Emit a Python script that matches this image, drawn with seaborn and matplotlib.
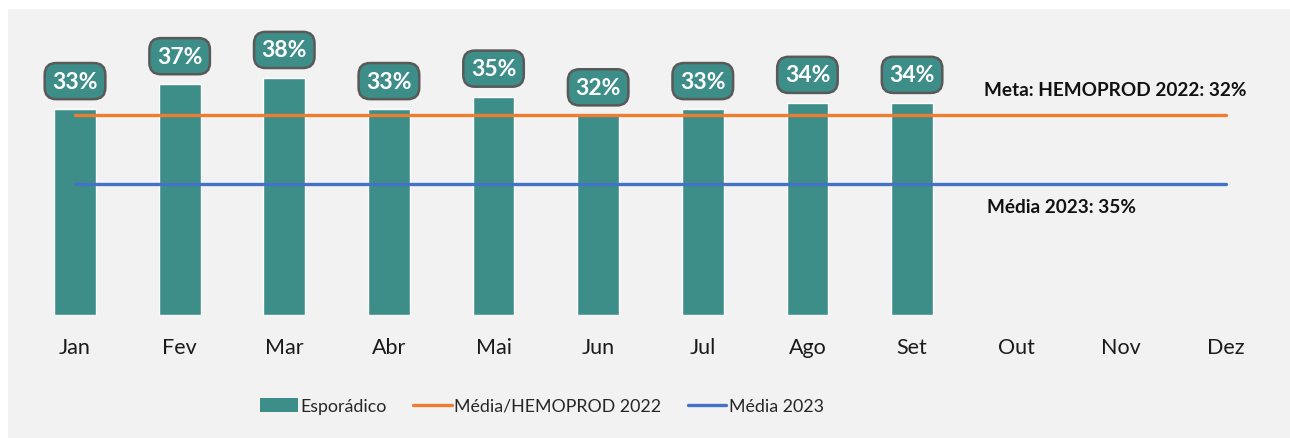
import numpy as np
import pandas as pd
import seaborn as sns
import matplotlib.pyplot as plt
from matplotlib.patches import Rectangle
from matplotlib.lines import Line2D
from matplotlib.patches import Patch

# dados do gráfico
meses = ['Jan', 'Fev', 'Mar', 'Abr', 'Mai', 'Jun', 'Jul', 'Ago', 'Set', 'Out', 'Nov', 'Dez']
esporadico = [0.33, 0.37, 0.38, 0.33, 0.35, 0.32, 0.33, 0.34, 0.34, np.nan, np.nan, np.nan]
meta_2022 = [0.32] * 12
media_2023 = [0.35] * 12

cor_barra = '#3D8E89'
cor_laranja = '#ED7D31'
cor_azul = '#4472C4'

sns.set_style('white')
plt.rcParams['font.family'] = ['Lato', 'DejaVu Sans']

df = pd.DataFrame({'mes': meses, 'esporadico': esporadico,
                   'meta': meta_2022, 'media': media_2023})
df['pos'] = np.arange(len(meses))

fig = plt.figure(figsize=(12.9, 4.39), dpi=100)
fig.patch.set_facecolor('white')
fig.patches.append(Rectangle((8 / 1290, -0.1), 2, 1.1 - 10 / 439, transform=fig.transFigure,
                             facecolor='#F2F2F2', edgecolor='none', zorder=-1))

ax = fig.add_axes([0.0176, 0.2809, 0.9733, 0.6740])
ax.set_facecolor('none')
sns.barplot(data=df, x='mes', y='esporadico', order=meses, color=cor_barra,
            width=0.4, saturation=1, ax=ax, label='Esporádico')
sns.lineplot(data=df, x='pos', y='meta', color=cor_laranja, linewidth=2.4,
             ax=ax, label='Média/HEMOPROD 2022', legend=False)
ax.lines[-1].set_solid_capstyle('round')

# linha da média 2023 no eixo secundário
ax2 = ax.twinx()
ax2.set_facecolor('none')
sns.lineplot(data=df, x='pos', y='media', color=cor_azul, linewidth=2.4,
             ax=ax2, label='Média 2023', legend=False)
ax2.lines[-1].set_solid_capstyle('round')

ax.set_xlim(-0.5, 11.5)
ax.set_ylim(0, 0.475)
ax2.set_ylim(0, 0.7924)

for a in (ax, ax2):
    for s in a.spines.values():
        s.set_visible(False)
    a.set_yticks([])
    a.set_ylabel('')
    a.set_xlabel('')
ax.tick_params(axis='x', length=0, pad=16, labelsize=15.5, labelcolor='#1a1a1a')
if ax.get_legend():
    ax.get_legend().remove()

# rótulos das barras
for i, v in enumerate(esporadico):
    if np.isnan(v):
        continue
    ax.text(i, v + 0.045, f'{v * 100:.0f}%', ha='center', va='center',
            color='white', fontsize=16.5, fontweight='bold',
            bbox=dict(boxstyle='round,pad=0.33,rounding_size=0.5', facecolor=cor_barra,
                      edgecolor='#595959', linewidth=1.8))

ax.text(8.69, meta_2022[-1] + 0.041, 'Meta: HEMOPROD 2022: 32%', ha='left', va='center',
        fontsize=13.7, fontweight='bold', color='#111111')
ax2.text(8.72, media_2023[-1] - 0.0616, 'Média 2023: 35%', ha='left', va='center',
         fontsize=13.7, fontweight='bold', color='#111111')

handles = [Patch(facecolor=cor_barra, edgecolor='none'),
           Line2D([0], [0], color=cor_laranja, linewidth=2.4, solid_capstyle='round'),
           Line2D([0], [0], color=cor_azul, linewidth=2.4, solid_capstyle='round')]
fig.legend(handles, ['Esporádico', 'Média/HEMOPROD 2022', 'Média 2023'],
           loc='center', bbox_to_anchor=(0.42, 1 - 407 / 439), ncol=3, frameon=False,
           fontsize=12.8, handlelength=2.15, handleheight=0.8, handletextpad=0.15,
           columnspacing=1.5)

fig.savefig('out.png', dpi=100)
